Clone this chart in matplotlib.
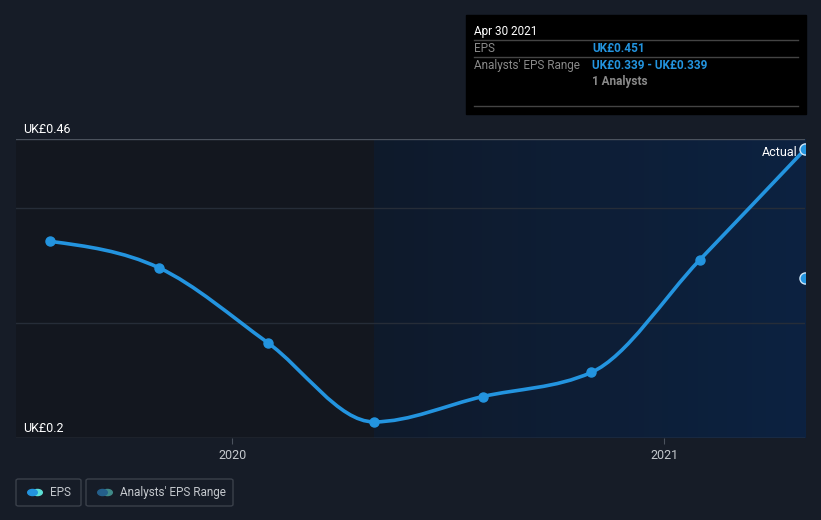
import numpy as np
import pandas as pd
import matplotlib
matplotlib.use('Agg')
import matplotlib.pyplot as plt
import matplotlib.dates as mdates
from matplotlib.path import Path
from matplotlib.patches import PathPatch, FancyBboxPatch, Rectangle, Circle

plt.rcParams['font.family'] = ['Roboto', 'DejaVu Sans']

# data
dates = ['2019-07-31', '2019-10-31', '2020-01-31', '2020-04-30',
         '2020-07-31', '2020-10-31', '2021-01-31', '2021-04-30']
eps = [0.371, 0.348, 0.283, 0.214, 0.236, 0.257, 0.355, 0.451]
analyst_date = '2021-04-30'
analyst_eps = 0.339
y_labels = ['UK£0.2', 'UK£0.46']
x_ticks = ['2020-01-01', '2021-01-01']
x_tick_labels = ['2020', '2021']

BG = '#161c27'
PAST = '#13171f'
LINE = '#2394df'

x = mdates.date2num(pd.to_datetime(dates))
y = np.array(eps)
xa = mdates.date2num(pd.Timestamp(analyst_date))
x_left = mdates.date2num(pd.Timestamp('2019-07-02'))
x_split = mdates.date2num(pd.Timestamp('2020-04-30'))

fig = plt.figure(figsize=(8.21, 5.2), dpi=100, facecolor=BG)
ax = fig.add_axes([16 / 821, 1 - 438 / 520, (805 - 16) / 821, (438 - 139) / 520])
ax.set_facecolor(BG)
ax.set_xlim(x_left, x[-1])
ax.set_ylim(0.2, 0.46)

# past shading and forecast gradient
ax.axvspan(x_left, x_split, color=PAST, zorder=0)
grad = np.linspace(0, 1, 256)[None, :]
c0 = np.array([0x0f, 0x1a, 0x2b]) / 255
c1 = np.array([0x0c, 0x22, 0x41]) / 255
img = c0[None, None, :] * (1 - grad[..., None]) + c1[None, None, :] * grad[..., None]
ax.imshow(img, extent=[x_split, x[-1], 0.2, 0.46], aspect='auto', zorder=0)

# grid lines
ax.axhline(0.46, color='#4b525d', lw=1, zorder=1)
ax.axhline(0.2, color='#4b525d', lw=1, zorder=1)
for g in [0.4, 0.3]:
    ax.axhline(g, color='#262d38', lw=1, zorder=1)

# smooth monotone curve as bezier path
h = np.diff(x)
s = np.diff(y) / h
m = np.zeros_like(y)
for i in range(1, len(y) - 1):
    if s[i - 1] * s[i] <= 0:
        m[i] = 0
    else:
        p = (s[i - 1] * h[i] + s[i] * h[i - 1]) / (h[i - 1] + h[i])
        m[i] = np.sign(s[i]) * min(abs(s[i - 1]), abs(s[i]), 0.5 * abs(p)) * 2
m[0] = (3 * s[0] - m[1]) / 2
m[-1] = (3 * s[-1] - m[-2]) / 2
verts = [(x[0], y[0])]
codes = [Path.MOVETO]
for i in range(len(x) - 1):
    d = h[i] / 3
    verts += [(x[i] + d, y[i] + d * m[i]), (x[i + 1] - d, y[i + 1] - d * m[i + 1]), (x[i + 1], y[i + 1])]
    codes += [Path.CURVE4] * 3
ax.add_patch(PathPatch(Path(verts, codes), fill=False, edgecolor=LINE, lw=2.6,
                       capstyle='round', zorder=3))
ax.plot(x[:-1], y[:-1], 'o', color=LINE, ms=6.5, zorder=4)
ax.plot(x[-1], y[-1], 'o', color=LINE, mec='#cfe6f8', mew=1, ms=8, zorder=5)
ax.plot(xa, analyst_eps, 'o', color=LINE, mec='#cfe6f8', mew=1, ms=8, zorder=5)
ax.text(x[-1] - 6, y[-1] - 0.0025, 'Actual', color='white', fontsize=9,
        ha='right', va='center', zorder=6)

# y labels
ax.text(x_left + 6, 0.46 + 0.003, y_labels[1], color='white', fontsize=9, va='bottom')
ax.text(x_left + 6, 0.2 + 0.003, y_labels[0], color='white', fontsize=9, va='bottom')

ax.set_yticks([])
ax.set_xticks(mdates.date2num(pd.to_datetime(x_ticks)))
ax.set_xticklabels(x_tick_labels, color='#c4c8cd', fontsize=9)
ax.tick_params(axis='x', length=4, color='#4b525d', pad=4)
for sp in ax.spines.values():
    sp.set_visible(False)


def fx(px):
    return px / 821


def fy(py):
    return 1 - py / 520


# tooltip box
fig.patches.append(Rectangle((fx(466), fy(114)), 340 / 821, 99 / 520,
                             transform=fig.transFigure, color='black', zorder=10))
fig.text(fx(474), fy(31), 'Apr 30 2021', color='white', fontsize=8.5, va='center', zorder=11)
for ly in [40, 57, 106]:
    fig.add_artist(plt.Line2D([fx(474), fx(798)], [fy(ly), fy(ly)], color='#444444',
                              lw=1, zorder=11))
fig.text(fx(474), fy(48.5), 'EPS', color='#8a8a8a', fontsize=8.5, va='center', zorder=11)
fig.text(fx(592), fy(48.5), 'UK£%.3f' % eps[-1], color=LINE, fontsize=8.5, weight='bold',
         va='center', zorder=11)
fig.text(fx(474), fy(65.5), "Analysts' EPS Range", color='#8a8a8a', fontsize=8.5,
         va='center', zorder=11)
fig.text(fx(592), fy(65.5), 'UK£%.3f - UK£%.3f' % (analyst_eps, analyst_eps), color=LINE,
         fontsize=8.5, weight='bold', va='center', zorder=11)
fig.text(fx(592), fy(81.5), '1 Analysts', color='#8a8a8a', fontsize=8.5, weight='bold',
         va='center', zorder=11)

# legend
for (l, r, label, ca, cb) in [(16, 81, 'EPS', '#2394df', '#5ce0d6'),
                              (86, 233, "Analysts' EPS Range", '#245f8a', '#3f8a88')]:
    fig.patches.append(FancyBboxPatch((fx(l), fy(506)), (r - l) / 821, 27 / 520,
                                      boxstyle='round,pad=0,rounding_size=0.003',
                                      transform=fig.transFigure, facecolor='none',
                                      edgecolor='#3a404a', lw=1))
    cx = l + 16.5
    fig.patches.append(Circle((fx(cx + 5), fy(492.5)), 4.8 / 821, transform=fig.transFigure,
                              color=cb))
    fig.patches.append(Circle((fx(cx), fy(492.5)), 4.8 / 821, transform=fig.transFigure,
                              color=ca))
    fig.text(fx(l + 34), fy(492.5), label, color='#c4c8cd', fontsize=8.5, va='center')

fig.savefig('out.png', dpi=100, facecolor=BG)
